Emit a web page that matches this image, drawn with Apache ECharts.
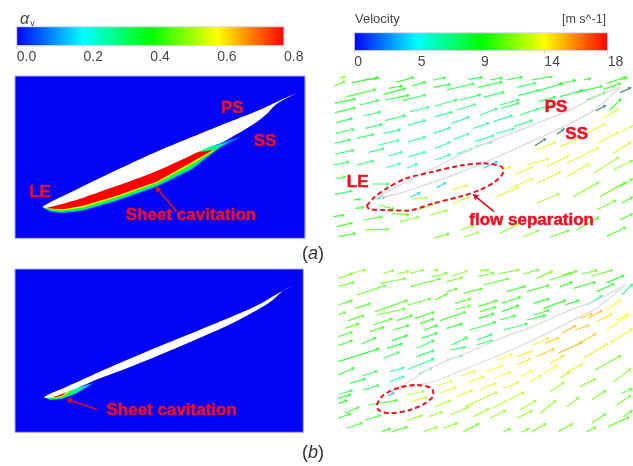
<!DOCTYPE html>
<html><head><meta charset="utf-8">
<style>html,body{margin:0;padding:0;background:#fff}#c{width:633px;height:466px;filter:blur(0.55px)}</style>
<script src="https://cdn.jsdelivr.net/npm/echarts@6/dist/echarts.min.js"></script>
</head><body><div id="c"></div>
<script>
// ---- colour scale
const jetStops = ['#0000ff','#00ffff','#00ff00','#ffff00','#ff0000'];
const alphaTicks = ['0.0','0.2','0.4','0.6','0.8'];
const velocityTicks = ['0','5','9','14','18'];

// ---- contour panel (a): blade and cavity outlines, read in panel units
const bladeUpperA = [[128,620],[200,583],[300,534],[400,487],[500,442],[600,401],[700,361],[780,329],[830,306],[889,280]];
const bladeLowerA = [[889,280],[830,312],[800,342],[760,373],[710,403],[670,425],[625,442],[600,453],[500,500],[400,540],[300,575],[215,604],[140,623]];
const cavityInnerA = [[500,470],[300,555]];
const cavityA1 = [[130,624],[150,635],[185,640],[250,632],[350,603],[470,561],[575,510],[660,443],[725,410]];
const cavityA2 = [[132,624],[155,633],[185,637],[250,629],[350,600],[470,557],[575,505],[658,442],[682,428]];
const cavityA3 = [[134,624],[160,631],[185,634],[250,626],[350,596],[470,553],[572,501],[650,446]];
const cavityA4 = [[136,624],[165,629],[190,631],[250,622],[350,592],[470,549],[568,497],[645,450]];
const cavityA5 = [[137,624],[170,627],[190,628],[250,617],[350,587],[470,545],[565,492],[640,450]];
const cavityAlphaA = [0.1,0.28,0.42,0.6,0.8];

// ---- contour panel (b)
const bladeUpperB = [[133,440],[200,410],[300,365],[400,322],[500,280],[600,239],[700,198],[780,162],[830,133],[877,108]];
const bladeLowerB = [[877,108],[850,122],[815,152],[780,175],[700,218],[600,263],[500,306],[400,347],[300,385],[230,415],[180,434],[140,444]];
const cavityInnerB = [[200,420]];
const cavityB1 = [[134,442],[150,450],[185,447],[230,430],[280,400]];
const cavityB2 = [[136,442],[152,448],[185,445],[225,429],[255,410]];
const cavityB3 = [[138,442],[155,446],[185,442],[220,427]];
const cavityB4 = [[142,441],[160,444],[185,440],[205,428]];
const cavityB5 = [[150,440],[165,442],[185,437],[198,428]];
const cavityAlphaB = [0.15,0.28,0.42,0.6,0.8];

// ---- velocity panel (a): [x0,y0,x1,y1,speed]
const vectorsA = [
[42,258,78,243,10.5],[58,234,80,229,11],[95,248,180,232,9],[130,240,175,235,9.5],[228,247,285,231,9],[340,240,380,232,8.5],[445,238,490,231,8.5],[510,240,550,233,9],[560,240,610,230,8.5],[635,240,700,228,9],[790,240,815,235,9],[860,250,920,230,9.5],[900,240,925,232,10],
[80,290,170,268,9.5],[45,310,110,296,9],[190,283,260,265,9],[205,265,250,257,9],[275,258,320,245,8.5],[380,270,465,250,8.5],[340,262,395,252,8.5],[475,262,550,245,8.5],[590,262,650,248,8],[655,272,730,250,8.5],[715,252,770,240,9],[770,277,850,258,8.5],[850,268,905,248,9.5],
[45,338,110,322,8.5],[120,315,180,300,8.5],[195,300,270,285,8.5],[248,302,320,284,8],[345,318,415,298,7.5],[420,300,485,283,8],[490,292,555,275,8],[540,315,600,298,7.5],[595,287,660,270,8],[655,305,710,290,8],[720,290,790,270,8.5],[800,300,860,275,8.5],
[48,368,100,355,8],[130,348,185,335,7.5],[195,362,260,345,7.5],[270,335,330,320,7],[345,350,400,335,7],[410,330,470,312,7],[480,345,535,325,7],[545,325,600,308,7.5],[600,345,660,325,7.5],[660,325,700,315,7.5],
[48,400,105,387,8],[135,385,190,372,7.5],[190,400,245,388,7],[265,375,320,360,7],[340,400,395,382,6.5],[395,370,450,350,6.5],[460,385,510,368,6.5],[520,365,580,345,6.5],[580,380,640,360,7],
[45,430,95,418,8],[110,415,165,402,7.5],[175,435,240,420,6.5],[265,425,320,410,6.5],[345,445,395,425,6],[400,418,450,400,6],[465,425,525,405,6],[530,400,585,385,6.5],
[45,462,105,450,8],[145,457,195,445,7],[205,468,250,455,6],[265,470,320,455,6],[345,480,395,462,5.5],[410,462,460,445,5.5],[465,440,520,425,6],
[40,495,90,485,8],[110,495,165,482,7.5],[200,502,245,490,5.5],[260,505,295,490,5.5],
[50,535,80,530,8.5],[155,552,210,552,7.5],[45,583,100,572,8],[100,600,125,597,8.5],
[40,650,75,645,9],[105,625,135,622,9],[170,597,198,590,3],[178,615,225,628,10],[50,680,100,668,9.5],[130,660,190,650,10],[215,640,270,645,10.5],[275,597,325,593,11.5],
[55,710,110,700,9.5],[135,690,210,688,10.5],[240,665,300,650,11],[330,645,385,630,11.5],[295,630,345,610,11],[395,570,445,555,12.5],[400,610,450,590,12.5],[270,592,303,577,3.5],[350,563,380,547,3.5],[490,505,535,483,3.5],
[340,715,390,700,10.5],[420,690,465,675,11],[430,712,480,695,11],[540,510,575,500,13],
[580,525,640,500,13],[620,495,690,475,13],[570,565,640,535,13],[530,590,600,560,12.5],[650,550,725,515,12.5],[680,500,750,465,13],[650,450,710,425,13],[720,440,790,410,13],[800,400,860,370,13],[850,355,900,325,13],[740,490,840,440,13],[830,430,900,395,13],[905,395,940,375,13],[740,530,810,490,12.5],[880,460,935,425,12.5],[820,520,900,470,11.5],[760,590,840,545,11],[650,610,720,580,11.5],
[880,510,940,480,11],[840,590,920,545,10.5],[900,560,940,535,10.5],[540,700,600,670,11],[610,710,660,690,11],[690,712,750,690,10.5],[770,690,840,650,10],[860,710,920,680,10],[830,630,890,600,10.5],[905,610,940,590,10],[900,660,940,640,10],[870,330,905,295,9]
];
const darkVectorsA = [[645,437,680,415],[710,403,735,385],[827,333,860,315],[900,278,935,262]];
const bladeOutlineTopA = [[170,592],[250,550],[350,500],[450,450],[550,410],[650,370],[750,330],[830,290],[900,262]];
const bladeOutlineBottomA = [[170,592],[220,585],[300,560],[400,525],[500,485],[600,440],[700,395],[780,355],[830,325],[900,262]];
const separationLoopA = [[140,618],[160,595],[200,565],[260,535],[340,515],[420,497],[490,490],[545,500],[550,515],[525,545],[480,570],[420,590],[340,610],[260,632],[190,630],[150,628],[140,618]];

// ---- velocity panel (b)
const vectorsB = [
[55,85,100,70,11],[90,72,140,58,11.5],[190,70,225,60,11],[230,72,270,62,11],[270,70,315,58,11],[340,62,358,58,11],[335,80,385,68,10.5],[395,78,445,62,11],[480,62,510,58,10.5],[475,80,525,68,10.5],[535,72,600,58,10.5],[610,72,660,58,10.5],[650,85,700,62,10.5],[690,90,760,68,10],[725,75,775,62,10.5],[785,72,835,60,10.5],[815,78,880,60,10.5],[860,98,915,75,9],
[55,110,105,95,10.5],[110,135,200,105,10.5],[180,100,260,85,10.5],[270,110,365,85,10],[380,95,430,82,10.5],[380,125,415,115,10],[430,130,490,115,10],[490,105,570,85,10],[560,125,620,108,9.5],[620,125,690,105,9.5],[720,110,760,95,9],[760,115,830,95,9.5],[830,125,885,100,9],[905,135,940,100,7],
[55,165,100,150,10],[105,175,155,160,10],[165,185,265,150,10],[265,165,335,145,10],[345,150,385,130,10],[405,160,455,145,10],[475,170,535,150,9.5],[545,160,605,140,9.5],[640,160,690,145,9],[670,175,740,150,9],[735,165,780,150,9],[800,165,850,135,7],
[55,195,80,185,10],[85,212,135,195,10],[170,195,260,175,10.5],[285,205,345,185,9.5],[405,180,455,165,10],[480,185,530,170,9.5],[545,185,600,165,9],[640,195,690,180,9],
[75,235,120,220,10],[160,225,220,205,9.5],[230,212,280,195,9.5],[300,220,345,205,9.5],[360,212,440,185,9.5],[475,205,525,190,9],[540,210,590,195,8.5],[620,210,680,195,8.5],
[55,260,100,245,9.5],[150,245,195,230,9.5],[220,240,270,225,9],[310,240,355,225,9],[380,235,430,220,9],[450,240,530,215,8.5],[550,240,625,220,8],
[55,287,100,270,9.5],[125,282,170,262,9],[215,272,265,255,8.5],[305,265,355,248,8.5],[395,285,445,260,8.5],[470,270,520,252,7.5],
[55,335,180,295,9],[200,295,250,280,8.5],[290,295,345,270,8],[390,300,440,290,7.5],[470,285,520,270,7.5],
[190,325,240,305,8],[290,320,345,300,7.5],[380,330,430,315,7],
[55,375,105,352,9],[125,378,175,362,8],[210,365,255,352,6.5],[265,358,345,325,7],[295,372,340,352,6.5],
[90,400,140,385,8],[130,420,180,405,8],[210,395,255,378,6],
[60,432,100,420,8],[55,445,95,432,9],[55,460,85,450,9],[145,465,235,450,9.5],[205,438,225,425,3],[260,435,315,423,12],[275,455,325,440,12.5],
[55,505,95,490,9],[75,490,120,470,9.5],[135,510,185,495,9.5],[80,535,130,518,9.5],[185,545,215,535,9.5],[215,545,265,530,10],
[350,408,400,392,13],[420,378,470,362,13],[530,330,580,312,13.5],[590,320,640,302,14],[640,285,690,262,14],[675,280,720,262,14.5],[725,250,770,225,15],[780,205,820,190,14.5],[805,205,850,180,15],[830,215,880,190,14],[765,240,810,225,14.5],[860,180,905,148,13.5],[890,210,930,190,13.5],[860,240,925,195,13.5],[870,280,939,235,13],
[360,430,410,410,12.5],[445,398,495,378,13],[500,365,550,345,13.5],[590,345,635,325,14],[650,320,705,295,14.5],[715,310,790,275,15],[770,285,830,250,14.5],[690,340,735,315,14],
[345,470,395,450,12],[410,440,460,420,12.5],[480,420,530,398,13],[525,385,575,365,13.5],[600,380,640,360,13.5],[670,370,715,345,13.5],[790,325,865,280,14],[745,365,790,340,13],
[390,495,450,470,11.5],[435,470,535,425,12],[550,415,600,395,12.5],[630,395,665,375,13],[720,385,750,365,12],[825,360,905,315,10.5],
[260,512,310,495,11.5],[325,500,370,485,11.5],[460,500,510,475,11.5],[515,475,615,425,12],[600,480,650,450,11.5],[780,410,830,385,11],[690,425,735,395,11.5],[880,395,935,355,11],
[310,545,355,530,11],[370,535,415,518,11],[510,505,560,480,11.5],[590,505,640,480,11],[660,490,710,450,11],[815,450,860,420,10.5],[740,470,780,440,11],[890,465,935,435,10.5],
[430,545,480,520,10.5],[550,545,575,535,10.5],[605,545,630,535,10.5],[635,545,680,520,10.5],[715,545,760,520,10.5],[800,545,830,530,10],[815,520,860,490,10],[865,530,930,500,10],[910,500,939,480,10],[905,430,939,415,10]
];
const bladeOutlineTopB = [[205,430],[250,405],[340,350],[450,305],[550,262],[650,225],[750,180],[820,155],[880,125],[915,105]];
const bladeOutlineBottomB = [[205,430],[250,415],[340,395],[440,355],[550,310],[650,265],[730,225],[790,195],[830,175],[880,135],[915,105]];
const separationLoopB = [[170,465],[190,435],[240,412],[290,405],[335,415],[340,435],[315,460],[270,480],[210,490],[175,480],[170,465]];

// ---- annotations: [x,y,text] and pointers [x0,y0,x1,y1]
const labelsContourA = [[697,325,'PS'],[795,423,'SS'],[120,577,'LE'],[573,645,'Sheet cavitation']];
const pointersContourA = [[530,635,465,558]];
const labelsVelocityA = [[708,322,'PS'],[770,402,'SS'],[113,547,'LE'],[635,660,'flow separation']];
const pointersVelocityA = [[522,635,458,582]];
const labelsContourB = [[515,480,'Sheet cavitation']];
const pointersContourB = [[290,478,198,447]];

// ---- helpers
function jet(t){
  return echarts.color.lerp(Math.max(0,Math.min(1,t)), jetStops);
}
function polySeries(ax, polys){
  return {type:'custom', xAxisIndex:ax, yAxisIndex:ax, clip:true, silent:true,
    data: polys.map((p,i)=>[p.pts[0][0],p.pts[0][1],i]),
    renderItem(params, api){
      const p = polys[params.dataIndex];
      return {type:'polygon', shape:{points:p.pts.map(q=>api.coord(q)),smooth:p.smooth||0}, style:{fill:p.fill}};
    }};
}
function arrowSeries(ax, rows, colorOf, width, head, op){
  return {type:'custom', xAxisIndex:ax, yAxisIndex:ax, clip:true, silent:true, data:rows,
    renderItem(params, api){
      const a = api.coord([api.value(0),api.value(1)]), b = api.coord([api.value(2),api.value(3)]);
      const c = colorOf(api.value(4));
      const L = Math.hypot(b[0]-a[0],b[1]-a[1]) || 1, ux=(b[0]-a[0])/L, uy=(b[1]-a[1])/L;
      const bx=b[0]-ux*head, by=b[1]-uy*head, w=head*0.55;
      return {type:'group', children:[
        {type:'line', shape:{x1:a[0],y1:a[1],x2:bx,y2:by}, style:{stroke:c,lineWidth:width,opacity:op}},
        {type:'polygon', shape:{points:[b,[bx-uy*w,by+ux*w],[bx+uy*w,by-ux*w]]}, style:{fill:c,opacity:op}}
      ]};
    }};
}
function curveSeries(ax, pts, color, width, dashed){
  return {type:'line', xAxisIndex:ax, yAxisIndex:ax, data:pts, smooth:0.3, showSymbol:false, silent:true, clip:true,
    lineStyle:{color:color,width:width,type:dashed?[5,3]:'solid'}};
}
function textSeries(ax, rows){
  return {type:'custom', xAxisIndex:ax, yAxisIndex:ax, clip:false, silent:true, z:10,
    data:rows.map(r=>[r[0],r[1]]),
    renderItem(params, api){
      const p = api.coord([api.value(0),api.value(1)]);
      return {type:'text', style:{x:p[0],y:p[1],text:rows[params.dataIndex][2],fill:'#ee0f22',stroke:'#ee0f22',lineWidth:0.5,
        font:'bold 17px "Liberation Sans", Arial, sans-serif',align:'center',verticalAlign:'middle'}};
    }};
}
function barSeries(ax, max){
  return {type:'custom', xAxisIndex:ax, yAxisIndex:ax, silent:true, data:[[0,0,max,1]],
    renderItem(params, api){
      const a = api.coord([api.value(0),api.value(3)]), b = api.coord([api.value(2),api.value(1)]);
      return {type:'rect', shape:{x:a[0],y:a[1],width:b[0]-a[0],height:b[1]-a[1]},
        style:{fill:new echarts.graphic.LinearGradient(0,0,1,0,jetStops.map((c,i)=>({offset:i/(jetStops.length-1),color:c}))),
               stroke:'#dcdcf0',lineWidth:1}};
    }};
}
function closed(lower, upper){ return lower.concat(upper||[]); }
const alphaColor = a => jet(a/0.8), speedColor = v => jet(v/18);

// ---- layout: grid rect + axis range in panel units
const panelA   = {left:15,   top:76,  width:290,  height:162.3, x:[45,915], y:[228,715]};
const panelVA  = {left:333.3,top:76,  width:299.7,height:162.3, x:[40,939], y:[228,715]};
const panelB   = {left:15,   top:269, width:288.3,height:163.3, x:[45,910], y:[57,547]};
const panelVB  = {left:336.7,top:269, width:296.3,height:163.3, x:[50,939], y:[57,547]};
const panels = [panelA,panelVA,panelB,panelVB];

const grids = panels.map((p,i)=>({left:p.left,top:p.top,width:p.width,height:p.height,show:i===0||i===2,
  backgroundColor:'#0404f4',borderColor:'#a8a8ff',borderWidth:1}));
const xAxes = panels.map((p,i)=>({type:'value',gridIndex:i,min:p.x[0],max:p.x[1],show:false}));
const yAxes = panels.map((p,i)=>({type:'value',gridIndex:i,min:p.y[0],max:p.y[1],show:false,inverse:true}));

// colour bars
grids.push({left:16.7,top:26.7,width:267.3,height:19},{left:354.3,top:32.7,width:253.4,height:18});
const barAxis = (g,max,interval,labels)=>({type:'value',gridIndex:g,min:0,max:max,interval:interval,
  axisLine:{show:false},splitLine:{show:false},
  axisTick:{show:true,length:3,lineStyle:{color:'#cfcfcf'}},
  axisLabel:{show:true,align:'left',margin:4,fontSize:14,color:'#484848',fontFamily:'"Liberation Sans", Arial, sans-serif',
    showMinLabel:true,showMaxLabel:true,hideOverlap:false,formatter:(v,i)=>labels[i]}});
xAxes.push(barAxis(4,0.8,0.2,alphaTicks),barAxis(5,18,4.5,velocityTicks));
yAxes.push({type:'value',gridIndex:4,min:0,max:1,show:false},{type:'value',gridIndex:5,min:0,max:1,show:false});

const cavLayers = (layers,alphas,inner)=>layers.map((pts,i)=>({pts:pts.concat(inner),fill:alphaColor(alphas[i])}));

const series = [
  barSeries(4,0.8), barSeries(5,18),
  polySeries(0, cavLayers([cavityA1,cavityA2,cavityA3,cavityA4,cavityA5],cavityAlphaA,cavityInnerA).concat([{pts:closed(bladeUpperA,bladeLowerA),fill:'#ffffff',smooth:0.4}])),
  textSeries(0,labelsContourA),
  arrowSeries(0,pointersContourA.map(r=>r.concat(0)),()=>'#d8101c',1.6,6,1),
  curveSeries(1,bladeOutlineTopA,'#dedede',1.5),
  curveSeries(1,bladeOutlineBottomA,'#dedede',1.5),
  arrowSeries(1,vectorsA,speedColor,1.2,3.5,0.75),
  arrowSeries(1,darkVectorsA.map(r=>r.concat(0)),()=>'#3a8a80',1.3,3.5,0.9),
  curveSeries(1,separationLoopA,'#ee1122',2,true),
  textSeries(1,labelsVelocityA),
  arrowSeries(1,pointersVelocityA.map(r=>r.concat(0)),()=>'#d8101c',1.6,6,1),
  polySeries(2, cavLayers([cavityB1,cavityB2,cavityB3,cavityB4,cavityB5],cavityAlphaB,cavityInnerB).concat([{pts:closed(bladeUpperB,bladeLowerB),fill:'#ffffff',smooth:0.4}])),
  textSeries(2,labelsContourB),
  arrowSeries(2,pointersContourB.map(r=>r.concat(0)),()=>'#d8101c',1.6,6,1),
  curveSeries(3,bladeOutlineTopB,'#e2e2e2',1.5),
  curveSeries(3,bladeOutlineBottomB,'#e2e2e2',1.5),
  arrowSeries(3,vectorsB,speedColor,1.2,3.5,0.75),
  curveSeries(3,separationLoopB,'#ee1122',2,true)
];

const base = {fontFamily:'"Liberation Sans", Arial, sans-serif',fontWeight:'normal'};
const capRich = {i:{fontStyle:'italic',fontSize:18,color:'#303030',fontFamily:'"Liberation Sans",Arial,sans-serif'}};
const titles = [
  {left:15,top:7,text:'{a|α}{v|v}',textStyle:{...base,rich:{a:{fontStyle:'italic',fontSize:16,color:'#404040',fontFamily:'"Liberation Sans",Arial,sans-serif'},v:{fontSize:9,color:'#404040',verticalAlign:'bottom',padding:[6,0,0,1],fontFamily:'"Liberation Sans",Arial,sans-serif'}}}},
  {left:350,top:8,text:'Velocity',textStyle:{...base,fontSize:13,color:'#484848'}},
  {left:557,top:8,text:'[m s^-1]',textStyle:{...base,fontSize:12.5,color:'#484848'}},
  {left:297,top:240,text:'({i|a})',textStyle:{...base,fontSize:18,color:'#303030',rich:capRich}},
  {left:297,top:439,text:'({i|b})',textStyle:{...base,fontSize:18,color:'#303030',rich:capRich}}
];

const chart = echarts.init(document.getElementById('c'),null,{renderer:'canvas'});
chart.setOption({animation:false,backgroundColor:'#fff',title:titles,grid:grids,xAxis:xAxes,yAxis:yAxes,series:series});
</script></body></html>
